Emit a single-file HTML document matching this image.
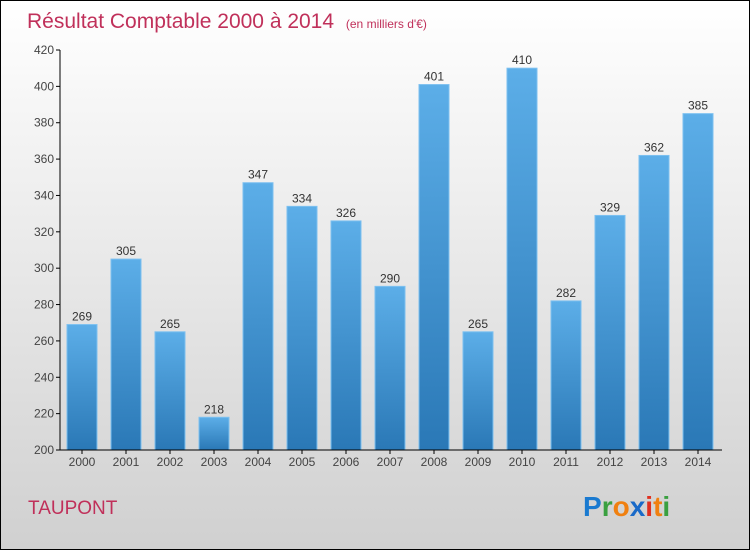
<!DOCTYPE html>
<html><head><meta charset="utf-8"><style>
body{margin:0;width:750px;height:550px;overflow:hidden;font-family:"Liberation Sans",sans-serif}
</style></head><body>
<svg width="750" height="550" xmlns="http://www.w3.org/2000/svg">
<defs>
<linearGradient id="bg" x1="0" y1="0" x2="0" y2="1"><stop offset="0" stop-color="#ffffff"/><stop offset="1" stop-color="#d0d0d0"/></linearGradient>
<linearGradient id="bar" x1="0" y1="0" x2="0" y2="1"><stop offset="0" stop-color="#5caee8"/><stop offset="1" stop-color="#2a78b6"/></linearGradient>
</defs>
<rect x="0.5" y="0.5" width="749" height="549" fill="url(#bg)" stroke="#000"/>
<text x="27" y="28" font-size="21" fill="#c0305a">Résultat Comptable 2000 à 2014 <tspan font-size="12" dx="6">(en milliers d'€)</tspan></text>
<g id="plot"></g>
<text x="28" y="514" font-size="19" fill="#c0305a">TAUPONT</text>
<text x="583" y="516" font-size="28" font-weight="bold"><tspan fill="#1a7ad0">P</tspan><tspan fill="#3aa040">r</tspan><tspan fill="#f08010">o</tspan><tspan fill="#1a6ac8">x</tspan><tspan fill="#e03020">i</tspan><tspan fill="#f08010">t</tspan><tspan fill="#3aa040">i</tspan></text>
</svg>
<script>
const years=["2000","2001","2002","2003","2004","2005","2006","2007","2008","2009","2010","2011","2012","2013","2014"];
const values=[269,305,265,218,347,334,326,290,401,265,410,282,329,362,385];
const yTicks=[200,220,240,260,280,300,320,340,360,380,400,420];
const NS="http://www.w3.org/2000/svg";
const g=document.getElementById('plot');
const y0=450,y1=50,vmin=200,vmax=420,x0=60,x1=722;
const ys=v=>y0-(v-vmin)/(vmax-vmin)*(y0-y1);
const step=44, xc=i=>82+i*step, bw=30;
function mk(t,a){const e=document.createElementNS(NS,t);for(const k in a)e.setAttribute(k,a[k]);g.appendChild(e);return e;}
yTicks.forEach(v=>{
 const l=mk('line',{x1:x0-4,x2:x0,y1:ys(v),y2:ys(v),stroke:'#000'});
 
 
 const t=mk('text',{x:x0-6,y:ys(v)+4,'text-anchor':'end','font-size':12,fill:'#444'});
 t.textContent=v;
 
 
});
values.forEach((v,i)=>{
 const r=mk('rect',{x:xc(i)-bw/2,y:ys(v),width:bw,height:y0-ys(v),fill:'url(#bar)',stroke:'#7cc0f0','stroke-width':1});
 
 
 const t=mk('text',{x:xc(i),y:ys(v)-4,'text-anchor':'middle','font-size':12,fill:'#333'});
 t.textContent=v;
 
 
 const xt=mk('line',{x1:xc(i),x2:xc(i),y1:y0,y2:y0+4,stroke:'#000'});
 
 
 const xl=mk('text',{x:xc(i),y:y0+16,'text-anchor':'middle','font-size':12,fill:'#444'});
 xl.textContent=years[i];
 
 
});
const ya=mk('line',{x1:x0,x2:x0,y1:y1,y2:y0,stroke:'#000'});


const xa=mk('line',{x1:x0,x2:x1,y1:y0,y2:y0,stroke:'#000'});


</script>
</body></html>
